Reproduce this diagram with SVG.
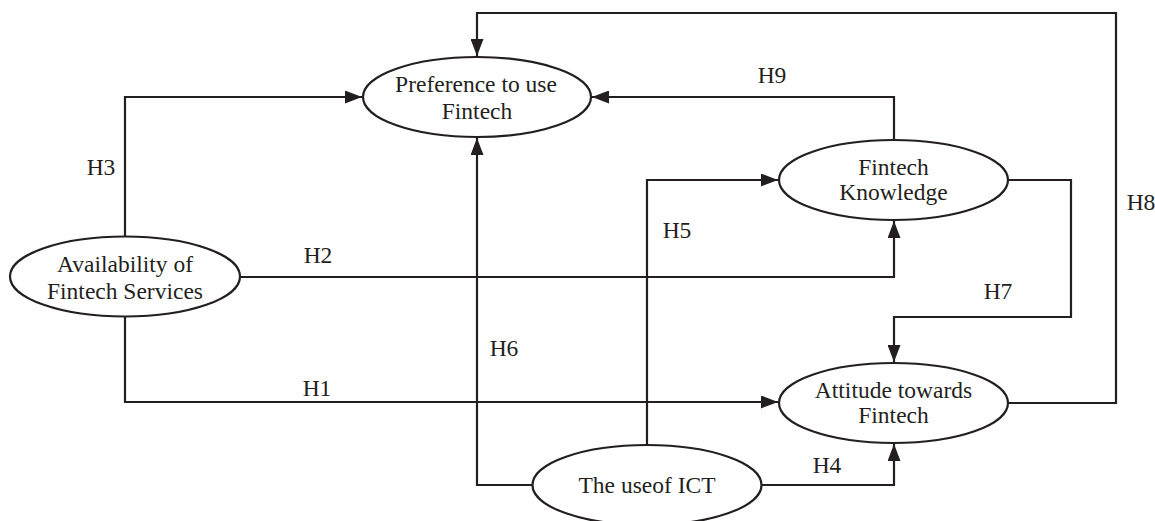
<svg xmlns="http://www.w3.org/2000/svg" width="1155" height="521" viewBox="0 0 1155 521">
<style>
.n{fill:#fff;stroke:#231f20;stroke-width:2.2}
.c{fill:none;stroke:#231f20;stroke-width:2.2;stroke-linejoin:miter}
.a{marker-end:url(#arr)}
text{font-family:"Liberation Serif","Times New Roman",serif;font-size:23.5px;fill:#231f20}
.m{text-anchor:middle}
</style>
<defs>
<marker id="arr" markerUnits="userSpaceOnUse" markerWidth="17" markerHeight="13" refX="17" refY="6.5" orient="auto">
<path d="M0,0 L17,6.5 L0,13 z" fill="#231f20"/>
</marker>
</defs>
<rect width="1155" height="521" fill="#fff"/>
<g id="connectors">
<path class="c a" d="M125,236 V97 H362"/>
<path class="c a" d="M1008,403 H1116 V13 H477 V56"/>
<path class="c a" d="M894,140 V97 H592"/>
<path class="c a" d="M647,445 V180 H778"/>
<path class="c a" d="M1008,180 H1071 V317 H894 V362"/>
<path class="c a" d="M762,485 H894 V444"/>
<path class="c a" d="M533,485 H477 V138"/>
<path class="c a" d="M125,317 V402 H778"/>
<path class="c a" d="M240,277 H894 V221"/>
</g>
<g id="labels">
<text x="101" y="175" class="m">H3</text>
<text x="772" y="83" class="m">H9</text>
<text x="1141" y="210" class="m">H8</text>
<text x="318" y="263" class="m">H2</text>
<text x="317" y="396" class="m">H1</text>
<text x="504" y="356" class="m">H6</text>
<text x="677" y="238" class="m">H5</text>
<text x="998" y="299" class="m">H7</text>
<text x="827" y="473" class="m">H4</text>
</g>
<g id="preference">
<ellipse class="n" cx="477" cy="97" rx="114" ry="40"/>
<text x="476" y="92" class="m">Preference to use</text>
<text x="477" y="119" class="m">Fintech</text>
</g>
<g id="availability">
<ellipse class="n" cx="125" cy="276.5" rx="115" ry="40"/>
<text x="125" y="272" class="m">Availability of</text>
<text x="125" y="299" class="m">Fintech Services</text>
</g>
<g id="knowledge">
<ellipse class="n" cx="893.5" cy="180" rx="114.5" ry="40"/>
<text x="893.5" y="175" class="m">Fintech</text>
<text x="893.5" y="200" class="m">Knowledge</text>
</g>
<g id="attitude">
<ellipse class="n" cx="893.5" cy="403" rx="114.5" ry="40"/>
<text x="893.5" y="398" class="m">Attitude towards</text>
<text x="893.5" y="423" class="m">Fintech</text>
</g>
<g id="ict">
<ellipse class="n" cx="647" cy="485" rx="114.5" ry="40"/>
<text x="647" y="493" class="m">The useof ICT</text>
</g>
</svg>
